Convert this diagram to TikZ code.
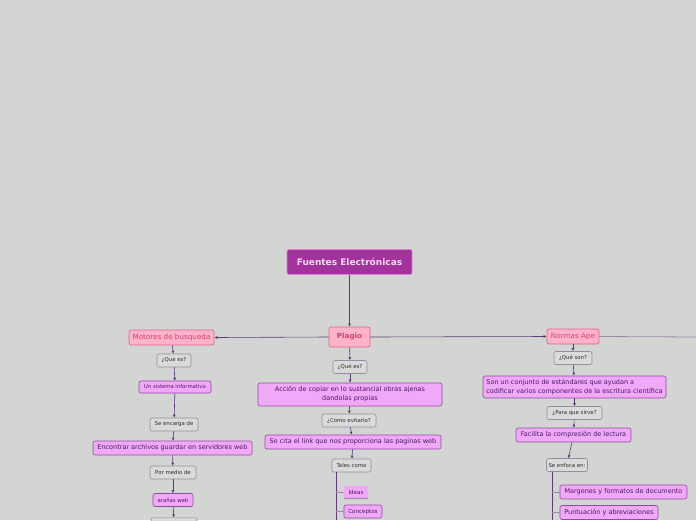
\documentclass[tikz,border=0pt]{standalone}
\usepackage{fontspec}
\setmainfont{DejaVu Sans}
\usetikzlibrary{arrows.meta,positioning}
\definecolor{canvas}{HTML}{D3D5D2}
\definecolor{rootfill}{HTML}{A2329C}
\definecolor{rootline}{HTML}{E47AD8}
\definecolor{roottext}{HTML}{F6DDF2}
\definecolor{pinkfill}{HTML}{FFB3C8}
\definecolor{pinkline}{HTML}{E2628F}
\definecolor{pinktext}{HTML}{D0407A}
\definecolor{violetfill}{HTML}{F0A9F8}
\definecolor{violetline}{HTML}{8E4C9C}
\definecolor{violettext}{HTML}{4A1860}
\definecolor{grayfill}{HTML}{DADADA}
\definecolor{grayline}{HTML}{9A8AA2}
\definecolor{graytext}{HTML}{2E2E2E}
\definecolor{wire}{HTML}{5C3A7C}
\definecolor{wirelight}{HTML}{9C88AC}
\tikzset{
  rootbox/.style={draw=rootline,fill=rootfill,line width=0.8pt,rounded corners=2pt,
                  text=roottext,font=\fontsize{9}{10}\selectfont\bfseries,
                  minimum height=25pt,inner xsep=4pt},
  pinkbox/.style={draw=pinkline,fill=pinkfill,line width=0.7pt,rounded corners=2pt,
                  text=pinktext,font=\fontsize{7.2}{8}\selectfont,
                  minimum height=15pt,inner xsep=2pt,inner ysep=1pt},
  violetbox/.style={draw=violetline,fill=violetfill,line width=0.6pt,rounded corners=2pt,
                    text=violettext,font=\fontsize{6.5}{9}\selectfont,
                    minimum height=14pt,inner xsep=2pt,inner ysep=1pt,align=center},
  graybox/.style={draw=grayline,fill=grayfill,line width=0.6pt,rounded corners=2pt,
                  text=graytext,font=\fontsize{5.4}{6}\selectfont,
                  minimum height=13pt,inner xsep=2pt,inner ysep=1pt},
  ideabox/.style={fill=violetfill,text=violettext,font=\fontsize{5.6}{6}\selectfont,
                  minimum height=12pt,inner xsep=2pt,inner ysep=1pt},
  wirearr/.style={-{Latex[length=3pt,width=3pt]},line width=0.6pt,color=wire},
  treeline/.style={line width=0.6pt,color=wire},
  branchline/.style={line width=0.5pt,color=wirelight}
}
\begin{document}
\begin{tikzpicture}[x=1pt,y=-1pt,>=Latex]
  \fill[canvas] (0,0) rectangle (696,520);
  \useasboundingbox (0,0) rectangle (696,520);
  % central topic and main branches
  \node[rootbox,minimum width=125pt] (root) at (349.5,262) {Fuentes Electrónicas};
  \node[pinkbox,font=\fontsize{7.2}{8}\selectfont\bfseries,minimum width=41pt,minimum height=20pt] (plagio) at (349.5,337) {Plagio};
  \node[pinkbox,minimum width=85pt] (motores) at (171.5,337.5) {Motores de busqueda};
  \node[pinkbox,minimum width=52pt] (normas) at (573,336.5) {Normas Ape};
  \coordinate (rightend) at (696,337);
  \draw[wirearr] (root) -- (plagio);
  \draw[wirearr] (plagio.west) -- (motores.east);
  \draw[wirearr] (plagio.east) -- (normas.west);
  \draw[line width=0.8pt,color=wirelight] (normas.east) -- (rightend);
  % left column
  \node[graybox,minimum width=34pt] (lque) at (174,360.5) {¿Que es?};
  \node[violetbox,minimum width=72pt,minimum height=12pt,font=\fontsize{5.3}{6}\selectfont] (sistema) at (175,387) {Un sistema informativo};
  \node[graybox,minimum width=48pt] (encarga) at (174,424.5) {Se encarga de};
  \node[violetbox,minimum width=159pt] (encontrar) at (172.5,448) {Encontrar archivos guardar en servidores web};
  \node[graybox,minimum width=46pt] (medio) at (173,472.5) {Por medio de};
  \node[violetbox,minimum width=40pt,minimum height=13pt,font=\fontsize{5.3}{6}\selectfont] (aranas) at (173,500) {arañas web};
  \node[graybox,minimum width=46pt,anchor=north] (siguiente) at (174,517.5) {};
  \draw[wirearr] (motores) -- (lque);
  \draw[wirearr] (lque) -- (sistema);
  \draw[wirearr] (sistema) -- (encarga);
  \draw[wirearr] (encarga) -- (encontrar);
  \draw[wirearr] (encontrar) -- (medio);
  \draw[wirearr] (medio) -- (aranas);
  \draw[wirearr] (aranas) -- (siguiente);
  % middle column
  \node[graybox,minimum width=34pt] (mque) at (350,367) {¿Qué es?};
  \node[violetbox,minimum width=184pt,minimum height=23pt] (accion) at (350,394.5)
    {Acción de copiar en lo sustancial obras ajenas\\dandolas propias};
  \node[graybox,minimum width=54pt] (evitar) at (349,420.5) {¿Como evitarlo?};
  \node[violetbox,minimum width=176pt] (cita) at (353,442) {Se cita el link que nos proporciona las paginas web};
  \node[graybox,minimum width=39pt] (tales) at (351.5,465.5) {Tales como};
  \node[ideabox,minimum width=24pt] (ideas) at (356,492) {Ideas};
  \node[violetbox,minimum width=38pt,minimum height=13pt,font=\fontsize{5.6}{6}\selectfont] (conceptos) at (363,511.5) {Conceptos};
  \coordinate (midtop) at (336,472);
  \coordinate (midend) at (336,520);
  \draw[wirearr] (plagio) -- (mque);
  \draw[wirearr] (mque) -- (accion);
  \draw[wirearr] (accion) -- (evitar);
  \draw[wirearr] (evitar) -- (cita);
  \draw[wirearr] (cita) -- (tales);
  \draw[treeline] (midtop) -- (midend);
  \draw[branchline] (ideas.west -| midtop) -- (ideas.west);
  \draw[branchline] (ideas.south west) -- (ideas.south east);
  \draw[branchline] (conceptos.west -| midtop) -- (conceptos.west);
  % right column
  \node[graybox,minimum width=38pt] (rson) at (573,358) {¿Qué son?};
  \node[violetbox,minimum width=183pt,minimum height=22pt,align=left] (conjunto) at (574.5,387)
    {Son un conjunto de estándares que ayudan a\\codificar varios componentes de la escritura científica};
  \node[graybox,minimum width=55pt] (sirve) at (574.5,413) {¿Para que sirve?};
  \node[violetbox,minimum width=115pt] (facilita) at (573.5,435) {Facilita la compresión de lectura};
  \node[graybox,minimum width=38pt] (enfoca) at (567,465) {Se enfoca en:};
  \node[violetbox,minimum width=127pt] (margenes) at (623.5,492) {Margenes y formatos de documento};
  \node[violetbox,minimum width=98pt] (puntuacion) at (609,512.5) {Puntuación y abreviaciones};
  \coordinate (righttop) at (552,472);
  \coordinate (rightbottom) at (552,520);
  \draw[wirearr] (normas) -- (rson);
  \draw[wirearr] (rson) -- (conjunto);
  \draw[wirearr] (conjunto) -- (sirve);
  \draw[wirearr] (sirve) -- (facilita);
  \draw[wirearr] (facilita) -- (enfoca);
  \draw[treeline] (righttop) -- (rightbottom);
  \draw[branchline] (margenes.west -| righttop) -- (margenes.west);
  \draw[branchline] (puntuacion.west -| righttop) -- (puntuacion.west);
\end{tikzpicture}
\end{document}
